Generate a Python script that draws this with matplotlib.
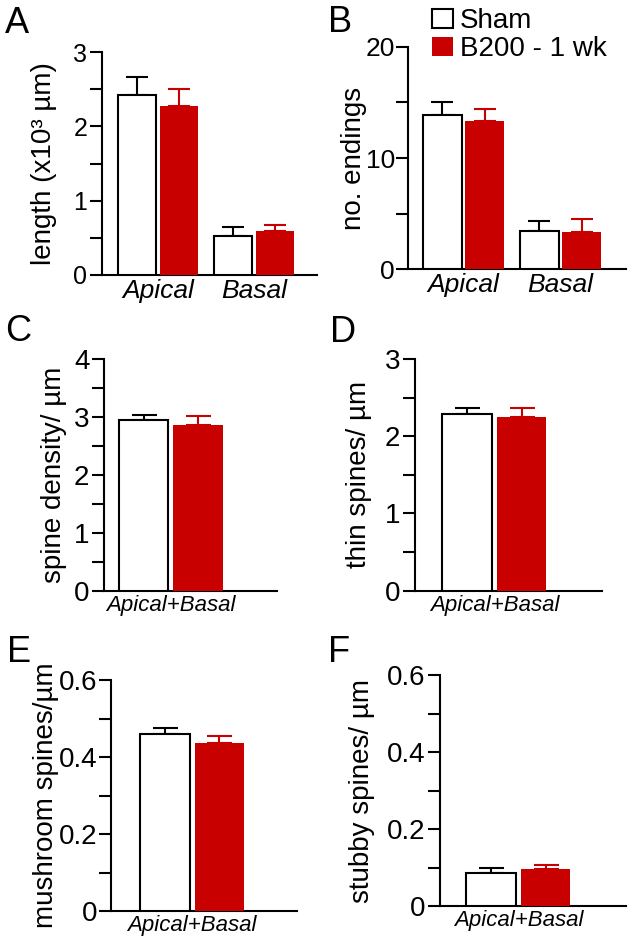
import matplotlib
matplotlib.use("Agg")
import matplotlib.pyplot as plt
from matplotlib.patches import Patch
import numpy as np

plt.rcParams['font.family'] = ['Liberation Sans', 'DejaVu Sans']

# data (mean, upper SEM)
groups = ['Apical', 'Basal']
length_sham = [2.42, 0.53]
length_sham_err = [0.25, 0.11]
length_b200 = [2.28, 0.59]
length_b200_err = [0.22, 0.08]

endings_sham = [13.9, 3.45]
endings_sham_err = [1.15, 0.87]
endings_b200 = [13.35, 3.38]
endings_b200_err = [1.05, 1.14]

combined = ['Apical+Basal']
density_sham = [2.94]
density_sham_err = [0.09]
density_b200 = [2.86]
density_b200_err = [0.15]

thin_sham = [2.29]
thin_sham_err = [0.07]
thin_b200 = [2.245]
thin_b200_err = [0.12]

mush_sham = [0.46]
mush_sham_err = [0.015]
mush_b200 = [0.438]
mush_b200_err = [0.018]

stubby_sham = [0.087]
stubby_sham_err = [0.012]
stubby_b200 = [0.095]
stubby_b200_err = [0.011]

series_names = ['Sham', 'B200 - 1 wk']
red = '#C80000'

W, H = 629, 941
fig = plt.figure(figsize=(W / 100, H / 100), dpi=100)


def px_axes(l, t, r, b):
    return fig.add_axes([l / W, 1 - b / H, (r - l) / W, (b - t) / H])


def panel(ax, cats, sham, sham_err, b200, b200_err, ymax, major, minor,
          ticklabels, xlim, ylabel, labx, catsize, ticksize, cap, tpad=2):
    x = np.arange(len(cats))
    ax.bar(x - 0.22, sham, 0.4, color='white', edgecolor='black', linewidth=1.5, zorder=3)
    ax.bar(x + 0.22, b200, 0.4, color=red, linewidth=0, zorder=3)
    ax.errorbar(x - 0.22, sham, yerr=[np.zeros(len(x)), sham_err], fmt='none',
                ecolor='black', elinewidth=1.5, capsize=cap, capthick=1.5, zorder=2)
    ax.errorbar(x + 0.22, b200, yerr=[np.zeros(len(x)), b200_err], fmt='none',
                ecolor=red, elinewidth=1.5, capsize=cap, capthick=1.5, zorder=2)
    ax.set_xlim(xlim)
    ax.set_ylim(0, ymax)
    ax.set_yticks(major)
    ax.set_yticklabels(ticklabels, fontsize=ticksize)
    ax.set_yticks(minor, minor=True)
    ax.set_xticks(x)
    ax.set_xticklabels(cats, fontsize=catsize, style='italic')
    ax.tick_params(axis='x', length=0, pad=3)
    ax.tick_params(axis='y', which='both', direction='out', length=8.5, width=1.5, pad=tpad)
    for s in ['top', 'right']:
        ax.spines[s].set_visible(False)
    for s in ['left', 'bottom']:
        ax.spines[s].set_linewidth(1.5)
    ax.set_ylabel(ylabel, fontsize=20)
    ax.yaxis.set_label_coords(labx, 0.5)
    ax.patch.set_alpha(0)


# A
ax = px_axes(102, 52, 317, 275)
panel(ax, groups, length_sham, length_sham_err, length_b200, length_b200_err,
      3, [0, 1, 2, 3], [0.5, 1.5, 2.5], ['0', '1', '2', '3'], (-0.583, 1.656),
      'length (x10³ µm)', -0.21, 19, 18, 8)

# B
ax = px_axes(408, 46.7, 626, 269.3)
panel(ax, groups, endings_sham, endings_sham_err, endings_b200, endings_b200_err,
      20, [0, 10, 20], [5, 15], ['0', '10', '20'], (-0.572, 1.675),
      'no. endings', -0.19, 19, 19, 8, tpad=1)

# C
ax = px_axes(104, 359, 277, 590.7)
panel(ax, combined, density_sham, density_sham_err, density_b200, density_b200_err,
      4, [0, 1, 2, 3, 4], [0.5, 1.5, 2.5, 3.5], ['0', '1', '2', '3', '4'], (-0.541, 0.857),
      'spine density/ µm', -0.214, 16, 20, 9)

# D
ax = px_axes(415, 359, 602, 590.7)
panel(ax, combined, thin_sham, thin_sham_err, thin_b200, thin_b200_err,
      3, [0, 1, 2, 3], [0.5, 1.5, 2.5], ['0', '1', '2', '3'], (-0.642, 0.869),
      'thin spines/ µm', -0.23, 16, 20, 9)

# E
ax = px_axes(111, 680.3, 297, 911)
panel(ax, combined, mush_sham, mush_sham_err, mush_b200, mush_b200_err,
      0.6, [0, 0.2, 0.4, 0.6], [0.1, 0.3, 0.5], ['0', '0.2', '0.4', '0.6'], (-0.655, 0.848),
      'mushroom spines/µm', -0.28, 16, 20, 9, tpad=1)

# F
ax = px_axes(440, 675.3, 626, 906)
panel(ax, combined, stubby_sham, stubby_sham_err, stubby_b200, stubby_b200_err,
      0.6, [0, 0.2, 0.4, 0.6], [0.1, 0.3, 0.5], ['0', '0.2', '0.4', '0.6'], (-0.634, 0.869),
      'stubby spines/ µm', -0.35, 16, 20, 9)

# panel letters
for letter, lx, ly in [('A', 5, 33), ('B', 328, 32), ('C', 5, 341),
                       ('D', 330, 342), ('E', 7, 662), ('F', 328, 662)]:
    fig.text(lx / W, 1 - ly / H, letter, fontsize=26, va='baseline', ha='left')

handles = [Patch(facecolor='white', edgecolor='black', linewidth=1.5),
           Patch(facecolor=red, edgecolor='none')]
fig.legend(handles, series_names, loc='upper left', bbox_to_anchor=(432 / W, 1 - 8 / H),
           frameon=False, fontsize=20, handlelength=0.75, handleheight=0.7,
           handletextpad=0.25, labelspacing=0.08, borderpad=0, borderaxespad=0)

fig.savefig('out.png', dpi=100)
